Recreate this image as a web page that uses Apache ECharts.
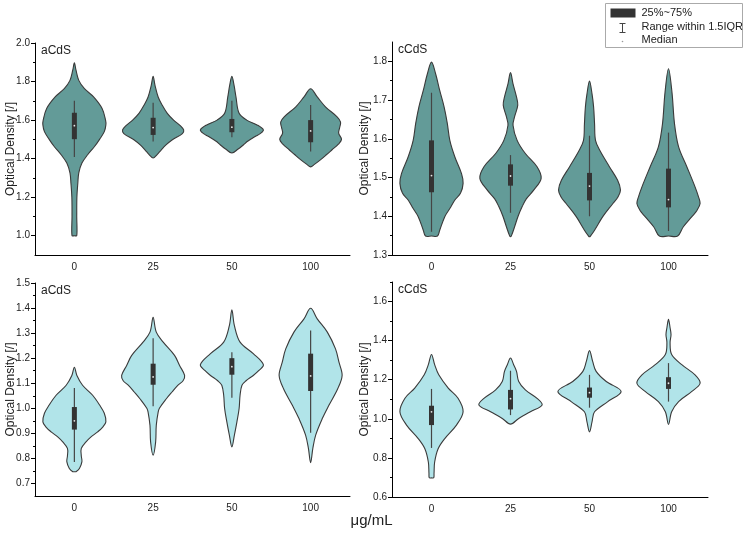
<!DOCTYPE html>
<html><head><meta charset="utf-8">
<script src="https://cdn.jsdelivr.net/npm/echarts@6/dist/echarts.min.js"></script>
<style>html,body{margin:0;padding:0;background:#fff}#c{width:743px;height:535px}</style>
</head><body><div id="c"></div>
<script>
// ---------- DATA ----------
const categories = ['0', '25', '50', '100'];

// Violin outlines: [Optical Density, relative density (1 = widest)], top to bottom
const aCdSTopViolins = [
  [[1.897,0],[1.86,0.05],[1.806,0.14],[1.763,0.32],[1.72,0.61],[1.66,0.88],[1.60,0.99],[1.575,1.0],[1.54,0.95],[1.50,0.8],[1.463,0.64],[1.42,0.42],[1.377,0.24],[1.326,0.14],[1.274,0.11],[1.20,0.08],[1.10,0.075],[1.0,0.075],[1.0,0]],
  [[1.827,0],[1.78,0.06],[1.72,0.16],[1.68,0.28],[1.635,0.45],[1.60,0.65],[1.57,0.87],[1.549,0.97],[1.53,0.93],[1.497,0.6],[1.47,0.4],[1.446,0.26],[1.42,0.12],[1.403,0]],
  [[1.827,0],[1.78,0.07],[1.72,0.13],[1.635,0.23],[1.60,0.47],[1.575,0.8],[1.549,1.0],[1.53,0.9],[1.515,0.74],[1.49,0.5],[1.472,0.37],[1.45,0.2],[1.429,0]],
  [[1.763,0],[1.72,0.21],[1.669,0.47],[1.617,0.84],[1.59,0.95],[1.56,0.92],[1.532,0.89],[1.50,0.98],[1.475,0.88],[1.446,0.68],[1.42,0.5],[1.395,0.32],[1.37,0.12],[1.357,0]]
];
const cCdSTopViolins = [
  [[1.798,0],[1.768,0.13],[1.725,0.26],[1.682,0.4],[1.64,0.5],[1.596,0.58],[1.553,0.74],[1.51,0.95],[1.485,1.0],[1.46,0.92],[1.442,0.74],[1.42,0.58],[1.399,0.42],[1.364,0.26],[1.349,0.19],[1.349,0]],
  [[1.771,0],[1.742,0.08],[1.708,0.19],[1.687,0.23],[1.657,0.13],[1.635,0.08],[1.596,0.21],[1.562,0.47],[1.528,0.84],[1.498,0.97],[1.468,0.74],[1.445,0.5],[1.425,0.37],[1.40,0.24],[1.373,0.13],[1.35,0.03],[1.347,0]],
  [[1.749,0],[1.716,0.08],[1.682,0.13],[1.639,0.16],[1.596,0.19],[1.571,0.32],[1.528,0.63],[1.493,0.89],[1.468,0.98],[1.45,0.9],[1.433,0.74],[1.399,0.42],[1.364,0.16],[1.35,0.04],[1.347,0]],
  [[1.781,0],[1.72,0.11],[1.639,0.19],[1.579,0.32],[1.528,0.58],[1.476,0.84],[1.45,0.95],[1.433,1.0],[1.415,0.9],[1.399,0.74],[1.373,0.47],[1.349,0.29],[1.349,0]]
];
const aCdSBottomViolins = [
  [[1.164,0],[1.131,0.08],[1.092,0.26],[1.052,0.58],[1.013,0.8],[0.98,0.95],[0.946,1.0],[0.925,0.9],[0.906,0.74],[0.885,0.52],[0.866,0.37],[0.84,0.22],[0.81,0.22],[0.787,0.24],[0.76,0.16],[0.747,0.05],[0.747,0]],
  [[1.363,0],[1.304,0.1],[1.264,0.32],[1.211,0.68],[1.171,0.84],[1.131,1.0],[1.11,0.95],[1.092,0.79],[1.065,0.6],[1.038,0.42],[1.0,0.2],[0.985,0.16],[0.932,0.1],[0.866,0.08],[0.813,0]],
  [[1.393,0],[1.33,0.08],[1.264,0.26],[1.218,0.68],[1.174,1.0],[1.15,0.85],[1.131,0.68],[1.11,0.45],[1.092,0.32],[1.052,0.26],[0.999,0.23],[0.946,0.16],[0.893,0.08],[0.846,0]],
  [[1.399,0],[1.357,0.21],[1.304,0.53],[1.237,0.79],[1.184,0.9],[1.131,1.0],[1.078,0.86],[1.012,0.58],[0.959,0.37],[0.893,0.16],[0.84,0.07],[0.783,0]]
];
const cCdSBottomViolins = [
  [[1.329,0],[1.277,0.1],[1.225,0.23],[1.157,0.53],[1.105,0.84],[1.036,1.0],[0.968,0.79],[0.899,0.42],[0.847,0.21],[0.779,0.1],[0.72,0.08],[0.698,0.07],[0.698,0]],
  [[1.311,0],[1.277,0.1],[1.243,0.19],[1.191,0.26],[1.148,0.47],[1.105,0.84],[1.071,1.0],[1.036,0.63],[1.002,0.26],[0.973,0]],
  [[1.349,0],[1.294,0.1],[1.243,0.21],[1.191,0.53],[1.14,1.0],[1.088,0.58],[1.036,0.16],[0.984,0.08],[0.933,0]],
  [[1.509,0],[1.466,0.05],[1.432,0.08],[1.389,0.05],[1.329,0.1],[1.277,0.42],[1.225,0.84],[1.182,1.0],[1.14,0.74],[1.088,0.32],[1.036,0.1],[0.971,0]]
];

// Box statistics per category
const aCdSTopQ1 = [1.501, 1.523, 1.537, 1.485];
const aCdSTopQ3 = [1.638, 1.612, 1.606, 1.600];
const aCdSTopMedian = [1.571, 1.561, 1.563, 1.544];
const aCdSTopWhiskerLow = [1.408, 1.489, 1.511, 1.437];
const aCdSTopWhiskerHigh = [1.700, 1.690, 1.700, 1.678];

const cCdSTopQ1 = [1.462, 1.479, 1.441, 1.423];
const cCdSTopQ3 = [1.596, 1.534, 1.512, 1.523];
const cCdSTopMedian = [1.505, 1.504, 1.478, 1.443];
const cCdSTopWhiskerLow = [1.360, 1.409, 1.400, 1.362];
const cCdSTopWhiskerHigh = [1.719, 1.558, 1.608, 1.616];

const aCdSBottomQ1 = [0.915, 1.094, 1.134, 1.069];
const aCdSBottomQ3 = [1.005, 1.178, 1.200, 1.218];
const aCdSBottomMedian = [0.950, 1.125, 1.166, 1.129];
const aCdSBottomWhiskerLow = [0.786, 1.008, 1.042, 0.902];
const aCdSBottomWhiskerHigh = [1.081, 1.280, 1.224, 1.310];

const cCdSBottomQ1 = [0.968, 1.048, 1.108, 1.153];
const cCdSBottomQ3 = [1.067, 1.148, 1.160, 1.213];
const cCdSBottomMedian = [1.036, 1.103, 1.134, 1.182];
const cCdSBottomWhiskerLow = [0.851, 1.019, 1.057, 1.088];
const cCdSBottomWhiskerHigh = [1.153, 1.246, 1.225, 1.285];

// Axis tick labels
const aTopTicks = [1.0, 1.2, 1.4, 1.6, 1.8, 2.0];
const aTopMinor = [1.1, 1.3, 1.5, 1.7, 1.9];
const cTopTicks = [1.3, 1.4, 1.5, 1.6, 1.7, 1.8];
const cTopMinor = [1.35, 1.45, 1.55, 1.65, 1.75];
const aBottomTicks = [0.7, 0.8, 0.9, 1.0, 1.1, 1.2, 1.3, 1.4, 1.5];
const aBottomMinor = [0.75, 0.85, 0.95, 1.05, 1.15, 1.25, 1.35, 1.45];
const cBottomTicks = [0.6, 0.8, 1.0, 1.2, 1.4, 1.6];
const cBottomMinor = [0.7, 0.9, 1.1, 1.3, 1.5, 1.7];

const panelLabels = ['aCdS', 'cCdS', 'aCdS', 'cCdS'];
const legendLabels = ['25%~75%', 'Range within 1.5IQR', 'Median'];
const xTitle = 'μg/mL';
const yTitle = 'Optical Density [/]';

// ---------- CHART ----------
const FONT = 'Arial, "Liberation Sans", sans-serif';
const panels = [
  { violins: aCdSTopViolins, q1: aCdSTopQ1, q3: aCdSTopQ3, med: aCdSTopMedian, lo: aCdSTopWhiskerLow, hi: aCdSTopWhiskerHigh,
    ticks: aTopTicks, minor: aTopMinor, min: 0.9, max: 2.0, grid: { left: 35, top: 43, width: 315, height: 212 }, fill: '#639b98', gap: 18 },
  { violins: cCdSTopViolins, q1: cCdSTopQ1, q3: cCdSTopQ3, med: cCdSTopMedian, lo: cCdSTopWhiskerLow, hi: cCdSTopWhiskerHigh,
    ticks: cTopTicks, minor: cTopMinor, min: 1.3, max: 1.85, grid: { left: 392, top: 42, width: 316, height: 213 }, fill: '#639b98', gap: 21 },
  { violins: aCdSBottomViolins, q1: aCdSBottomQ1, q3: aCdSBottomQ3, med: aCdSBottomMedian, lo: aCdSBottomWhiskerLow, hi: aCdSBottomWhiskerHigh,
    ticks: aBottomTicks, minor: aBottomMinor, min: 0.65, max: 1.5, grid: { left: 35, top: 283, width: 315, height: 213 }, fill: '#b1e4e9', gap: 18 },
  { violins: cCdSBottomViolins, q1: cCdSBottomQ1, q3: cCdSBottomQ3, med: cCdSBottomMedian, lo: cCdSBottomWhiskerLow, hi: cCdSBottomWhiskerHigh,
    ticks: cBottomTicks, minor: cBottomMinor, min: 0.6, max: 1.7, grid: { left: 392, top: 282, width: 316, height: 215 }, fill: '#b1e4e9', gap: 21 }
];

const grids = [], xAxes = [], yAxes = [], series = [];
panels.forEach((p, k) => {
  grids.push(Object.assign({ containLabel: false, outerBoundsMode: 'none' }, p.grid));
  xAxes.push({
    type: 'category', gridIndex: k, data: categories, boundaryGap: true,
    axisLine: { lineStyle: { color: '#000', width: 1 } },
    axisTick: { alignWithLabel: true, length: 4, lineStyle: { color: '#000' } },
    axisLabel: { color: '#222', fontSize: 10, fontFamily: FONT, margin: 7 }
  });
  yAxes.push({
    type: 'value', gridIndex: k, min: p.min, max: p.max,
    name: yTitle, nameLocation: 'middle', nameRotate: 90, nameGap: p.gap, nameMoveOverlap: false,
    nameTextStyle: { color: '#222', fontSize: 12, fontFamily: FONT },
    splitLine: { show: false },
    axisLine: { show: true, lineStyle: { color: '#000', width: 1 } },
    axisTick: { show: true, length: 4, customValues: p.ticks, lineStyle: { color: '#000' } },
    axisLabel: { customValues: p.ticks, color: '#222', fontSize: 10, fontFamily: FONT, margin: 5,
                 formatter: v => Number(v).toFixed(1) }
  });
  yAxes.push({
    type: 'value', gridIndex: k, min: p.min, max: p.max, position: 'left',
    splitLine: { show: false }, axisLine: { show: false },
    axisTick: { show: true, length: 2, customValues: p.minor, lineStyle: { color: '#000' } },
    axisLabel: { show: false }
  });
  series.push({
    type: 'custom', xAxisIndex: k, yAxisIndex: 2 * k,
    data: categories.map((c, i) => [i, p.med[i]]),
    encode: { x: 0, y: 1 },
    silent: true,
    renderItem: function (params, api) {
      const i = params.dataIndex;
      const prof = p.violins[i];
      const band = api.size([1, 0])[0];
      const half = band * 0.40;
      const cx = api.coord([i, p.med[i]])[0];
      const right = [], left = [];
      prof.forEach(pt => {
        const y = api.coord([i, pt[0]])[1];
        right.push([cx + pt[1] * half, y]);
        if (pt[1] > 0) left.push([cx - pt[1] * half, y]);
      });
      left.reverse();
      const yq1 = api.coord([i, p.q1[i]])[1];
      const yq3 = api.coord([i, p.q3[i]])[1];
      const ylo = api.coord([i, p.lo[i]])[1];
      const yhi = api.coord([i, p.hi[i]])[1];
      const ym = api.coord([i, p.med[i]])[1];
      return {
        type: 'group',
        children: [
          { type: 'polygon', shape: { points: right.concat(left), smooth: 0.35 },
            style: { fill: p.fill, stroke: '#3a3a3a', lineWidth: 1.1 } },
          { type: 'line', shape: { x1: cx, y1: yhi, x2: cx, y2: ylo },
            style: { stroke: '#454545', lineWidth: 1.2 } },
          { type: 'rect', shape: { x: cx - 2.5, y: yq3, width: 5, height: yq1 - yq3 },
            style: { fill: '#333333' } },
          { type: 'circle', shape: { cx: cx, cy: ym, r: 0.9 }, style: { fill: '#e8e8e8' } }
        ]
      };
    }
  });
});

const graphic = [];
panels.forEach((p, k) => {
  graphic.push({ type: 'text', left: p.grid.left + 6, top: p.grid.top + 2,
    style: { text: panelLabels[k], fill: '#222', font: '12px ' + FONT } });
});
graphic.push({ type: 'text', left: 'center', top: 513, style: { text: xTitle, fill: '#222', font: '15px ' + FONT } });
// legend box
graphic.push({
  type: 'group', left: 605, top: 3,
  children: [
    { type: 'rect', shape: { x: 0, y: 0, width: 137, height: 44 }, style: { fill: '#fff', stroke: '#aaa', lineWidth: 1 } },
    { type: 'rect', shape: { x: 5, y: 5, width: 25, height: 9 }, style: { fill: '#333' } },
    { type: 'text', x: 36, y: 4, style: { text: legendLabels[0], fill: '#222', font: '11px ' + FONT } },
    { type: 'line', shape: { x1: 17, y1: 20, x2: 17, y2: 29 }, style: { stroke: '#444', lineWidth: 1 } },
    { type: 'line', shape: { x1: 14, y1: 20, x2: 20, y2: 20 }, style: { stroke: '#444', lineWidth: 1 } },
    { type: 'line', shape: { x1: 14, y1: 29, x2: 20, y2: 29 }, style: { stroke: '#444', lineWidth: 1 } },
    { type: 'text', x: 36, y: 18, style: { text: legendLabels[1], fill: '#222', font: '11px ' + FONT } },
    { type: 'circle', shape: { cx: 17, cy: 38, r: 0.8 }, style: { fill: '#999' } },
    { type: 'text', x: 36, y: 31, style: { text: legendLabels[2], fill: '#222', font: '11px ' + FONT } }
  ]
});

const chart = echarts.init(document.getElementById('c'), null, { renderer: 'canvas' });
chart.setOption({
  animation: false,
  backgroundColor: '#fff',
  grid: grids, xAxis: xAxes, yAxis: yAxes, series: series, graphic: graphic
});
</script></body></html>
